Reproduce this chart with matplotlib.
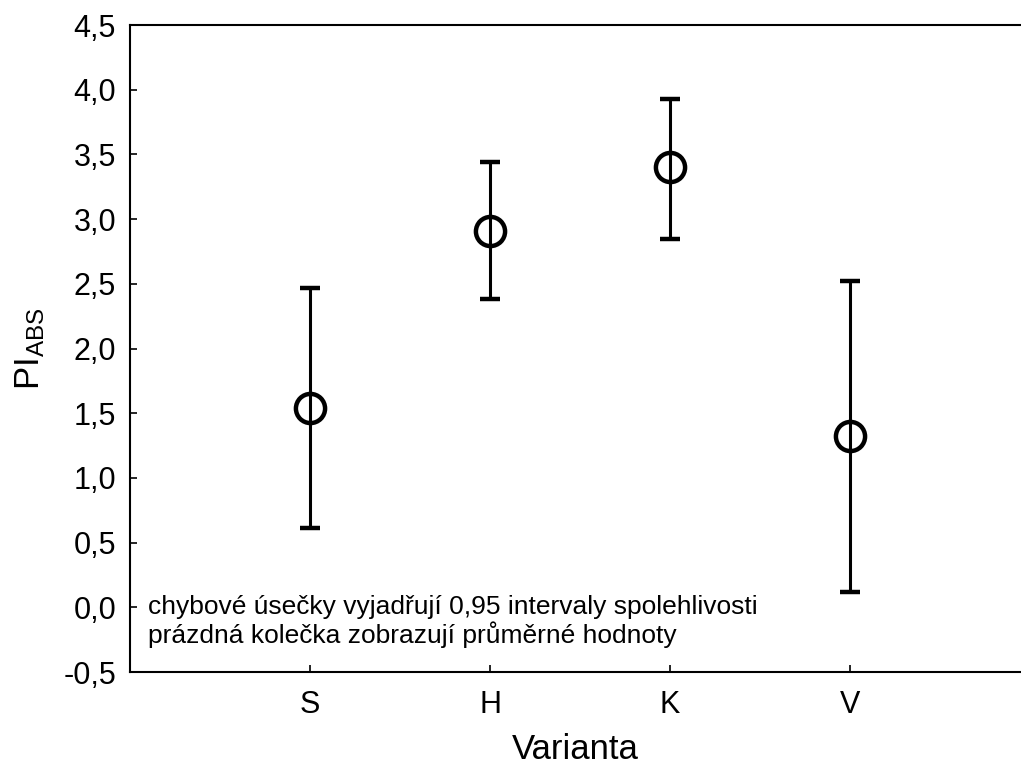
import matplotlib
matplotlib.use("Agg")
import matplotlib.pyplot as plt
from matplotlib.ticker import FuncFormatter

# data
variants = ["S", "H", "K", "V"]
means = [1.54, 2.91, 3.40, 1.32]
ci_low = [0.61, 2.38, 2.85, 0.12]
ci_high = [2.47, 3.44, 3.93, 2.52]
yticks = [-0.5, 0.0, 0.5, 1.0, 1.5, 2.0, 2.5, 3.0, 3.5, 4.0, 4.5]
notes = ["chybové úsečky vyjadřují 0,95 intervaly spolehlivosti",
         "prázdná kolečka zobrazují průměrné hodnoty"]

plt.rcParams['font.family'] = ['Liberation Sans', 'DejaVu Sans']

fig = plt.figure(figsize=(10.21, 7.66), dpi=100)
ax = fig.add_axes([130 / 1021, 1 - 672 / 766, 891 / 1021, 647 / 766])

xpos = list(range(1, len(variants) + 1))
err_lo = [m - lo for m, lo in zip(means, ci_low)]
err_hi = [hi - m for m, hi in zip(means, ci_high)]
ax.errorbar(xpos, means, yerr=[err_lo, err_hi], fmt='o', color='black',
            ecolor='black', elinewidth=2.2, capsize=7, capthick=2.2,
            markersize=21, markerfacecolor='none', markeredgecolor='black',
            markeredgewidth=3.2)

ax.set_xlim(0, 4.95)
ax.set_ylim(-0.5, 4.5)
ax.set_xticks(xpos)
ax.set_xticklabels(variants)
ax.set_yticks(yticks)
ax.yaxis.set_major_formatter(FuncFormatter(lambda v, p: ("%.1f" % v).replace('.', ',')))
ax.tick_params(direction='in', length=5, width=1.2, labelsize=22, pad=10)
ax.tick_params(axis='x', pad=13)

for s in ['left', 'bottom', 'top']:
    ax.spines[s].set_linewidth(1.5)
ax.spines['right'].set_visible(False)

ax.set_xlabel("Varianta", fontsize=25, labelpad=9)
ax.set_ylabel(r"$\mathregular{PI_{ABS}}$", fontsize=25, labelpad=12)

ax.text(18 / 891, 0.0896, notes[0], transform=ax.transAxes, fontsize=19, va='baseline')
ax.text(18 / 891, 0.0448, notes[1], transform=ax.transAxes, fontsize=19, va='baseline')

fig.savefig("out.png", dpi=100)
